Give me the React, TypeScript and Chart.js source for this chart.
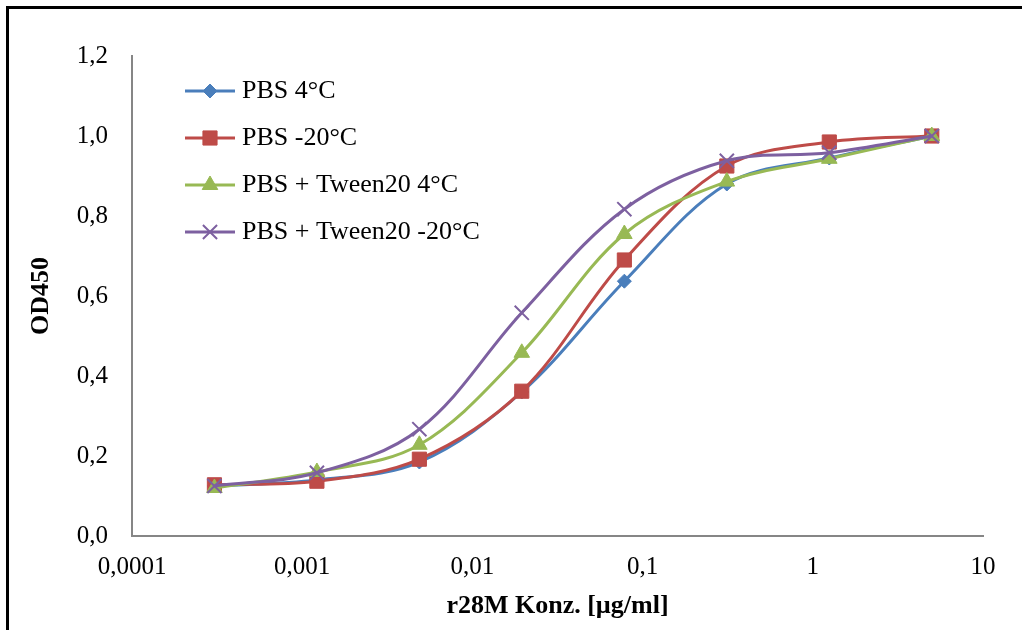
import React, { useEffect, useRef } from 'react';
import { Chart, registerables } from 'chart.js';
import { drawPoint } from 'chart.js/helpers';

Chart.register(...registerables);

// ---- data ----
const concentrations = [0.000305, 0.00122, 0.00488, 0.0195, 0.078125, 0.3125, 1.25, 5];
const pbs4 = [0.125, 0.14, 0.185, 0.36, 0.637, 0.88, 0.945, 1.0];
const pbsMinus20 = [0.128, 0.137, 0.192, 0.362, 0.69, 0.925, 0.985, 1.0];
const tween4 = [0.12, 0.16, 0.228, 0.458, 0.755, 0.886, 0.943, 1.0];
const tweenMinus20 = [0.125, 0.158, 0.267, 0.558, 0.817, 0.938, 0.958, 1.0];
const seriesNames = ['PBS 4°C', 'PBS -20°C', 'PBS + Tween20 4°C', 'PBS + Tween20 -20°C'];
const xTickValues = [0.0001, 0.001, 0.01, 0.1, 1, 10];
const xTickLabels = ['0,0001', '0,001', '0,01', '0,1', '1', '10'];
const yTickLabels = ['0,0', '0,2', '0,4', '0,6', '0,8', '1,0', '1,2'];
const xTitle = 'r28M Konz. [µg/ml]';
const yTitle = 'OD450';

const FONT = '"Liberation Serif", "Times New Roman", serif';

const toPoints = (vals: number[]) => vals.map((y, i) => ({ x: concentrations[i], y }));

const styles = [
  { color: '#4A7EBB', pointStyle: 'rectRot', radius: 7, bw: 1 },
  { color: '#BE4B48', pointStyle: 'rect', radius: 10, bw: 1 },
  { color: '#98B954', pointStyle: 'triangle', radius: 9, bw: 1 },
  { color: '#7D60A0', pointStyle: 'crossRot', radius: 10, bw: 2 },
];

const legendPlugin = {
  id: 'insideLegend',
  afterDraw(chart: any) {
    const { ctx, chartArea } = chart;
    const x0 = chartArea.left + 53;
    const x1 = chartArea.left + 103;
    const tx = chartArea.left + 110;
    const y0 = chartArea.top + 35;
    const step = 47;
    ctx.save();
    chart.data.datasets.forEach((ds: any, i: number) => {
      const y = y0 + i * step;
      ctx.strokeStyle = ds.borderColor;
      ctx.lineWidth = 3;
      ctx.beginPath();
      ctx.moveTo(x0, y);
      ctx.lineTo(x1, y);
      ctx.stroke();
      ctx.fillStyle = ds.pointBackgroundColor;
      ctx.strokeStyle = ds.pointBorderColor;
      ctx.lineWidth = ds.pointBorderWidth;
      drawPoint(ctx, { pointStyle: ds.pointStyle, rotation: 0, radius: ds.pointRadius, borderWidth: ds.pointBorderWidth }, (x0 + x1) / 2, y);
      ctx.fillStyle = '#000';
      ctx.font = `26px ${FONT}`;
      ctx.textBaseline = 'middle';
      ctx.textAlign = 'left';
      ctx.fillText(ds.label, tx, y);
    });
    ctx.restore();
  },
};

export default function App() {
  const ref = useRef<HTMLCanvasElement | null>(null);

  useEffect(() => {
    if (!ref.current) return;
    const seriesValues = [pbs4, pbsMinus20, tween4, tweenMinus20];
    const datasets = seriesValues.map((vals, i) => ({
      label: seriesNames[i],
      data: toPoints(vals),
      borderColor: styles[i].color,
      backgroundColor: styles[i].color,
      pointBackgroundColor: styles[i].color,
      pointBorderColor: styles[i].color,
      pointStyle: styles[i].pointStyle,
      pointRadius: styles[i].radius,
      pointBorderWidth: styles[i].bw,
      borderWidth: 3,
      tension: 0.35,
      fill: false,
      order: 4 - i,
    }));

    const chart = new Chart(ref.current, {
      type: 'line',
      data: { datasets },
      plugins: [legendPlugin],
      options: {
        animation: false,
        responsive: false,
        devicePixelRatio: 1,
        layout: { padding: { left: 0, top: 56, right: 39, bottom: 0 } },
        plugins: {
          legend: { display: false },
          tooltip: { enabled: false },
        },
        scales: {
          x: {
            type: 'logarithmic',
            min: 0.0001,
            max: 10,
            afterBuildTicks: (scale: any) => {
              scale.ticks = xTickValues.map((v) => ({ value: v }));
            },
            afterFit: (scale: any) => {
              scale.height = 94;
            },
            grid: { display: false, drawTicks: false },
            border: { display: true, color: '#868686', width: 2 },
            ticks: {
              autoSkip: false,
              maxRotation: 0,
              padding: 16,
              color: '#000',
              font: { family: FONT, size: 25 },
              callback: (v: any) => {
                const idx = xTickValues.findIndex((t) => Math.abs(Math.log10(t) - Math.log10(Number(v))) < 1e-6);
                return idx >= 0 ? xTickLabels[idx] : '';
              },
            },
            title: {
              display: true,
              text: xTitle,
              color: '#000',
              font: { family: FONT, size: 26, weight: 'bold', lineHeight: 1.2 },
              padding: { top: 0, bottom: 8 },
            },
          },
          y: {
            min: 0,
            max: 1.2,
            afterFit: (scale: any) => {
              scale.width = 132;
            },
            grid: { display: false, drawTicks: false },
            border: { display: true, color: '#868686', width: 2 },
            ticks: {
              stepSize: 0.2,
              padding: 24,
              color: '#000',
              font: { family: FONT, size: 25 },
              callback: (v: any, i: number) => yTickLabels[i] ?? '',
            },
            title: {
              display: true,
              text: yTitle,
              color: '#000',
              font: { family: FONT, size: 26, weight: 'bold', lineHeight: 1.2 },
              padding: { top: 26, bottom: 0 },
            },
          },
        },
      } as any,
    });
    return () => chart.destroy();
  }, []);

  return (
    <div style={{ position: 'fixed', left: 0, top: 0, width: 1022, height: 630, overflow: 'hidden', background: '#fff' }}>
      <canvas ref={ref} width={1022} height={630} style={{ position: 'absolute', left: 0, top: 0, width: 1022, height: 630 }} />
      <div
        style={{
          position: 'absolute',
          left: 6,
          top: 6,
          width: 2000,
          height: 2000,
          borderLeft: '3px solid #000',
          borderTop: '3px solid #000',
          pointerEvents: 'none',
        }}
      />
    </div>
  );
}
